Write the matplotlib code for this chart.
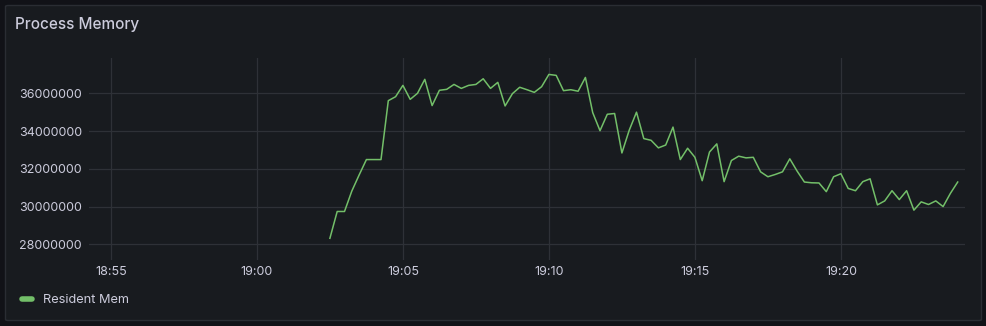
import matplotlib
matplotlib.use("Agg")
import matplotlib.pyplot as plt
import matplotlib.dates as mdates
from matplotlib.lines import Line2D
from matplotlib.patches import FancyBboxPatch
from matplotlib.ticker import FixedLocator, FuncFormatter
import pandas as pd

# ---------------------------------------------------------------------------
# Data (15 s scrape interval)
# ---------------------------------------------------------------------------
START = "2024-01-01 19:02:30"
N_POINTS = 87

resident_mem_m = [
    28.32, 29.74, 29.74, 30.82, 31.67, 32.49, 32.49, 32.49, 35.61, 35.82,
    36.42, 35.68, 36.00, 36.74, 35.35, 36.16, 36.21, 36.47, 36.26, 36.42,
    36.47, 36.77, 36.26, 36.58, 35.33, 35.98, 36.32, 36.19, 36.05, 36.35,
    37.00, 36.95, 36.14, 36.19, 36.11, 36.84, 34.98, 34.02, 34.89, 34.93,
    32.84, 34.04, 35.00, 33.60, 33.51, 33.11, 33.26, 34.21, 32.49, 33.09,
    32.61, 31.37, 32.89, 33.32, 31.32, 32.44, 32.67, 32.58, 32.61, 31.84,
    31.58, 31.70, 31.84, 32.53, 31.88, 31.30, 31.26, 31.25, 30.79, 31.58,
    31.74, 30.96, 30.84, 31.32, 31.47, 30.09, 30.30, 30.84, 30.37, 30.84,
    29.81, 30.25, 30.11, 30.30, 30.00, 30.70, 31.30,
]

y_ticks = [28000000, 30000000, 32000000, 34000000, 36000000]
x_tick_labels = ["18:55", "19:00", "19:05", "19:10", "19:15", "19:20"]
x_range = ("2024-01-01 18:54:15", "2024-01-01 19:24:15")
y_range = (27170000, 37870000)

series_name = "Resident Mem"
panel_title = "Process Memory"

# ---------------------------------------------------------------------------
# Style
# ---------------------------------------------------------------------------
BG_OUTER = "#111217"
BG_PANEL = "#181b1f"
BORDER = "#2a2d33"
GRID = "#2e3137"
TEXT = "#ccccdc"
GREEN = "#73bf69"

plt.rcParams["font.family"] = ["Inter", "DejaVu Sans"]

times = pd.date_range(START, periods=N_POINTS, freq="15s")
values = [v * 1e6 for v in resident_mem_m]

W, H = 986, 326
fig = plt.figure(figsize=(W / 100, H / 100), dpi=100, facecolor=BG_OUTER)

panel = FancyBboxPatch((5.5 / W, 5.5 / H), 976 / W, 315 / H,
                       boxstyle="round,pad=0,rounding_size=0.003",
                       transform=fig.transFigure, facecolor=BG_PANEL,
                       edgecolor=BORDER, linewidth=1, zorder=-10)
fig.patches.append(panel)

fig.text(15 / W, 1 - 24 / H, panel_title, color=TEXT, fontsize=11,
         fontweight="medium", ha="left", va="center")

ax = fig.add_axes([89 / W, 1 - 260 / H, (965 - 89) / W, (260 - 58) / H])
ax.set_zorder(1)
ax.set_facecolor(BG_PANEL)
ax.plot(times, values, color=GREEN, lw=1.1, zorder=3)

ax.set_xlim(pd.Timestamp(x_range[0]), pd.Timestamp(x_range[1]))
ax.set_ylim(*y_range)

x_ticks = [pd.Timestamp("2024-01-01 " + t) for t in x_tick_labels]
ax.xaxis.set_major_locator(FixedLocator(mdates.date2num(x_ticks)))
ax.xaxis.set_major_formatter(mdates.DateFormatter("%H:%M"))
ax.yaxis.set_major_locator(FixedLocator(y_ticks))
ax.yaxis.set_major_formatter(FuncFormatter(lambda v, _: f"{int(v)}"))

ax.grid(True, color=GRID, lw=0.9)
for s in ax.spines.values():
    s.set_visible(False)
ax.tick_params(axis="both", length=0, colors=TEXT, labelsize=9)
ax.tick_params(axis="y", pad=5)
ax.tick_params(axis="x", pad=4)

handle = Line2D([], [], color=GREEN, lw=4, solid_capstyle="round")
leg = fig.legend([handle], [series_name], loc="center left",
                 bbox_to_anchor=(22 / W, 1 - 300 / H), frameon=False,
                 fontsize=9.2, handlelength=0.8, handletextpad=0.85,
                 borderpad=0, borderaxespad=0)
for t in leg.get_texts():
    t.set_color(TEXT)

fig.savefig("out.png", dpi=100, facecolor=BG_OUTER)
